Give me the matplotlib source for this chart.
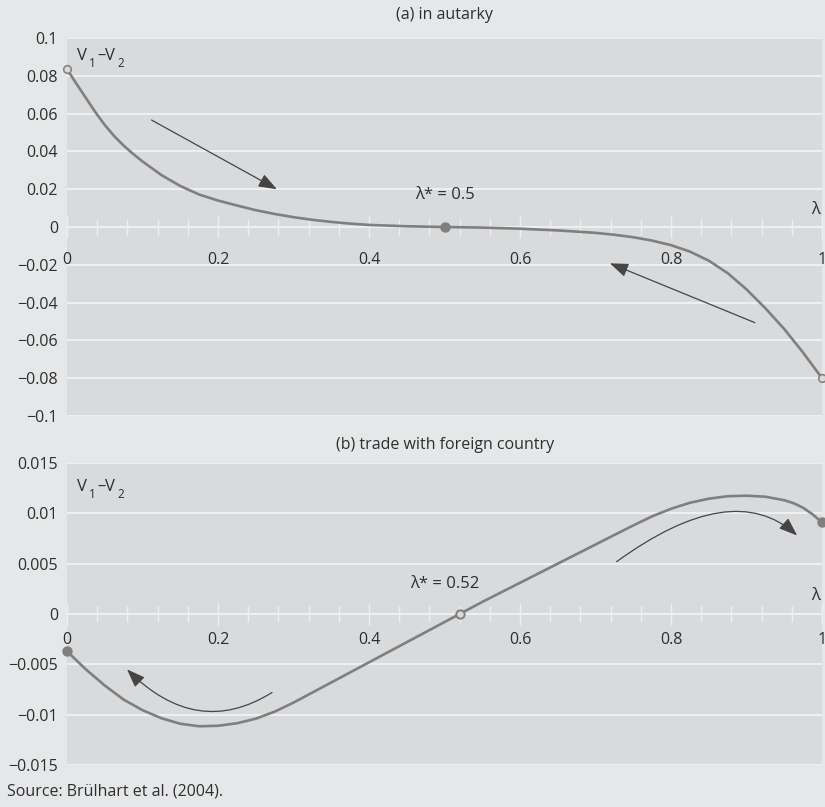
import matplotlib
matplotlib.use("Agg")
import matplotlib.pyplot as plt
from matplotlib.ticker import MultipleLocator

plt.rcParams['font.family'] = ['Open Sans', 'DejaVu Sans']

# panel (a): autarky
lam_a = [0, 0.0125, 0.025, 0.0375, 0.05, 0.0625, 0.075, 0.0875, 0.1, 0.125, 0.15, 0.175,
         0.2, 0.225, 0.25, 0.275, 0.3, 0.325, 0.35, 0.375, 0.4, 0.45, 0.5, 0.55, 0.6,
         0.65, 0.7, 0.725, 0.75, 0.775, 0.8, 0.825, 0.85, 0.875, 0.9, 0.925, 0.95,
         0.975, 1.0]
v_a = [0.0835, 0.0758, 0.0683, 0.0608, 0.0540, 0.0481, 0.0431, 0.0387, 0.0347, 0.0275,
       0.0217, 0.0172, 0.0140, 0.0114, 0.0089, 0.0069, 0.0052, 0.0038, 0.0027, 0.0018,
       0.0011, 0.0004, 0.0, -0.0003, -0.0009, -0.0018, -0.0031, -0.0041, -0.0054,
       -0.0072, -0.0096, -0.0130, -0.0178, -0.0244, -0.0330, -0.0430, -0.0540, -0.0665,
       -0.0800]
eq_a = (0.5, 0.0)
arrows_a = [((0.112, 0.0566), (0.278, 0.020)),
            ((0.911, -0.0506), (0.719, -0.0192))]
yticks_a = [0.1, 0.08, 0.06, 0.04, 0.02, 0, -0.02, -0.04, -0.06, -0.08, -0.1]
ylabels_a = ['0.1', '0.08', '0.06', '0.04', '0.02', '0',
             '\u22120.02', '\u22120.04', '\u22120.06', '\u22120.08', '\u22120.1']

# panel (b): trade with foreign country
lam_b = [0, 0.025, 0.05, 0.075, 0.1, 0.125, 0.15, 0.175, 0.2, 0.225, 0.25, 0.275, 0.3,
         0.325, 0.35, 0.375, 0.4, 0.425, 0.45, 0.475, 0.5, 0.52, 0.55, 0.575, 0.6,
         0.625, 0.65, 0.675, 0.7, 0.725, 0.75, 0.775, 0.8, 0.825, 0.85, 0.875, 0.9,
         0.925, 0.95, 0.9625, 0.975, 0.9875, 1.0]
v_b = [-0.0037, -0.0055, -0.0071, -0.0085, -0.00955, -0.01035, -0.0109, -0.01115,
       -0.0111, -0.01085, -0.0104, -0.0097, -0.0088, -0.0078, -0.0068, -0.0058, -0.0048,
       -0.0038, -0.0028, -0.0018, -0.0008, 0.0, 0.0012, 0.00215, 0.0031, 0.00405,
       0.0050, 0.00595, 0.0069, 0.00785, 0.0088, 0.0097, 0.01045, 0.01105, 0.01145,
       0.0117, 0.01175, 0.01165, 0.0113, 0.0110, 0.01055, 0.0099, 0.0091]
eq_b = (0.52, 0.0)
arrows_b = [((0.2715, -0.0078), (0.0795, -0.0055)),
            ((0.728, 0.0052), (0.967, 0.0078))]
yticks_b = [0.015, 0.01, 0.005, 0, -0.005, -0.01, -0.015]
ylabels_b = ['0.015', '0.01', '0.005', '0', '\u22120.005', '\u22120.01', '\u22120.015']

xticks = [0, 0.2, 0.4, 0.6, 0.8, 1]
xlabels = ['0', '0.2', '0.4', '0.6', '0.8', '1']

BG = '#e6e7e8'
PANEL = '#d9dadc'
GRID = '#eeeff0'
CURVE = '#7f7f7f'
ARROW = '#454545'
TXT = '#2e2e2e'
FS = 11.5


def style(ax, yticks, ylabels, xpad):
    ax.set_facecolor(PANEL)
    ax.set_xlim(0, 1)
    ax.set_ylim(yticks[-1], yticks[0])
    ax.set_yticks(yticks, ylabels)
    ax.set_xticks(xticks, xlabels)
    ax.xaxis.set_minor_locator(MultipleLocator(0.04))
    for s in ['top', 'right', 'left']:
        ax.spines[s].set_visible(False)
    ax.spines['bottom'].set_position(('data', 0))
    ax.spines['bottom'].set_color(GRID)
    ax.spines['bottom'].set_linewidth(1.5)
    ax.grid(axis='y', color=GRID, lw=1.5)
    ax.set_axisbelow(True)
    ax.xaxis.set_zorder(1)  # keep x tick labels above the y gridlines
    ax.tick_params(axis='y', length=0, pad=6.5, labelsize=FS, labelcolor=TXT)
    ax.tick_params(axis='x', which='major', direction='inout', length=16, width=1,
                   color=GRID, pad=xpad, labelsize=FS, labelcolor=TXT)
    ax.tick_params(axis='x', which='minor', direction='inout', length=11, width=1,
                   color=GRID)


def arrow(ax, start, end, conn):
    ax.annotate('', xy=end, xytext=start,
                arrowprops=dict(arrowstyle='-|>,head_length=0.75,head_width=0.28',
                                mutation_scale=15, color=ARROW, lw=0.9,
                                shrinkA=0, shrinkB=0, connectionstyle=conn))


def vlabel(ax, x, y):
    # V1 - V2 with lowered subscripts
    parts = [('V', 0, 0, 12), ('1', 8.6, -5, 8.5), ('\u2013', 14.6, 0, 12),
             ('V', 20.4, 0, 12), ('2', 29.0, -5, 8.5)]
    for t, dx, dy, fs in parts:
        ax.annotate(t, xy=(x, y), xytext=(dx, dy), textcoords='offset points',
                    fontsize=fs, color=TXT, va='baseline', ha='left')


fig = plt.figure(figsize=(8.25, 8.07), dpi=100, facecolor=BG)
ax1 = fig.add_axes([0.0812, 0.4845, 0.9152, 0.4684])
ax2 = fig.add_axes([0.0812, 0.0520, 0.9152, 0.3743])

style(ax1, yticks_a, ylabels_a, 10.3)
style(ax2, yticks_b, ylabels_b, 5.0)

# panel (a)
ax1.plot(lam_a, v_a, color=CURVE, lw=1.9, zorder=3, solid_capstyle='round',
         solid_joinstyle='round')
ax1.plot([lam_a[0], lam_a[-1]], [v_a[0], v_a[-1]], 'o', ms=5.5, mfc=PANEL,
         mec=CURVE, mew=1.1, zorder=4, clip_on=False)
ax1.plot(*eq_a, 'o', ms=6.5, color=CURVE, zorder=4)
for s, e in arrows_a:
    arrow(ax1, s, e, 'arc3,rad=0')
vlabel(ax1, 0.013, 0.0884)
ax1.text(0.5, 0.0169, '\u03bb* = 0.5', fontsize=12, color=TXT, ha='center', va='center')
ax1.text(0.991, 0.009, '\u03bb', fontsize=12, color=TXT, ha='center', va='center')

# panel (b)
ax2.plot(lam_b, v_b, color=CURVE, lw=1.9, zorder=3, solid_capstyle='round',
         solid_joinstyle='round')
ax2.plot([lam_b[0], lam_b[-1]], [v_b[0], v_b[-1]], 'o', ms=6.5, color=CURVE,
         zorder=4, clip_on=False)
ax2.plot(*eq_b, 'o', ms=6, mfc=PANEL, mec=CURVE, mew=1.4, zorder=4)
arrow(ax2, arrows_b[0][0], arrows_b[0][1], 'angle3,angleA=32,angleB=135')
arrow(ax2, arrows_b[1][0], arrows_b[1][1], 'angle3,angleA=36,angleB=-42')
vlabel(ax2, 0.013, 0.01223)
ax2.text(0.5, 0.003, '\u03bb* = 0.52', fontsize=12, color=TXT, ha='center', va='center')
ax2.text(0.991, 0.0018, '\u03bb', fontsize=12, color=TXT, ha='center', va='center')

fig.text(0.539, 1 - 15 / 807, '(a) in autarky', ha='center', va='center',
         fontsize=FS, color=TXT)
fig.text(0.539, 1 - 445 / 807, '(b) trade with foreign country', ha='center',
         va='center', fontsize=FS, color=TXT)
fig.text(0.0085, 1 - 792 / 807, 'Source: Brülhart et al. (2004).', ha='left',
         va='center', fontsize=FS, color=TXT)

fig.savefig('out.png', dpi=100, facecolor=BG)
